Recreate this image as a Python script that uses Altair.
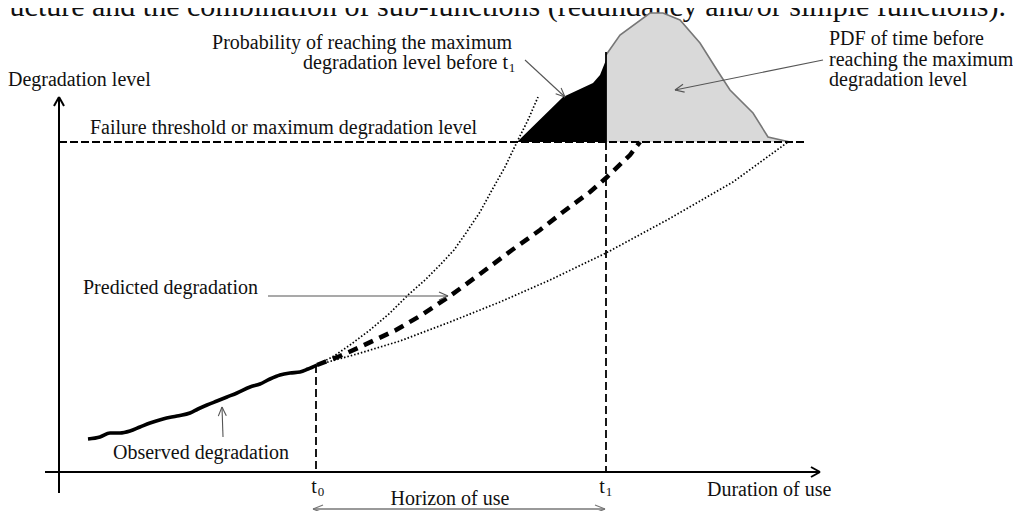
import altair as alt
import pandas as pd
import numpy as np

# Coordinate frame of the diagram (reference page pixels, y downward)
X_DOMAIN = [8, 1013]
Y_DOMAIN = [8, 511]

THRESHOLD = 142
T0 = 316
T1 = 606

# Observed degradation (solid, wavy)
obs_x = [88, 100, 110, 120, 130, 140, 150, 163, 177, 190, 198, 207, 217, 227, 237, 250, 260, 270, 280, 290, 300, 308, 317]
obs_y = [439, 437, 433, 433, 431, 427, 423, 419, 416, 413, 409, 405, 401, 397, 393, 387, 384, 379, 375, 373, 372, 369, 365]

# Predicted degradation (thick dashed, mean)
mid_x = [317, 340, 360, 396, 420, 450, 480, 512, 540, 563, 590, 606, 630, 640]
mid_y = [365, 356, 347, 330, 316, 296, 274, 250, 230, 212, 192, 178, 155, 142]

# Upper bound (dotted)
up_x = [317, 334, 350, 370, 390, 408, 425, 440, 454, 466, 480, 492, 505, 517, 528, 538]
up_y = [365, 356, 345, 330, 313, 295, 280, 265, 250, 233, 212, 190, 167, 142, 120, 97]

# Lower bound (dotted)
low_x = [317, 357, 400, 450, 500, 550, 606, 667, 733, 788]
low_y = [365, 354, 341, 322, 302, 280, 253, 220, 182, 142]

# Probability of failure before t1 (black area)
blk_x = [517, 563, 593, 600, 606]
blk_y = [142, 97, 83, 75, 60]

# PDF of time to failure (grey area)
pdf_x = [606, 620, 650, 663, 680, 700, 717, 730, 753, 768, 790]
pdf_y = [55, 35, 13, 13, 20, 43, 70, 90, 113, 137, 142]

# Texts
top_text = "ructure and the combination of sub-functions (redundancy and/or simple functions)."
left_labels = ["Degradation level", "Failure threshold or maximum degradation level",
               "PDF of time before", "reaching the maximum", "degradation level",
               "Predicted degradation", "Observed degradation", "Duration of use"]
left_lx = [8, 90, 829, 829, 829, 83, 113, 707]
left_ly = [80, 128, 39, 60, 80, 288, 453, 490]

right_labels = ["Probability of reaching the maximum", "degradation level before t"]
right_lx = [512, 508]
right_ly = [43, 63]

center_labels = ["Horizon of use", "t", "t"]
center_lx = [450, 314, 602]
center_ly = [499, 487, 487]

sub_labels = ["1", "0", "1"]
sub_lx = [512, 321, 609]
sub_ly = [68, 492, 492]

# Annotation arrows: start -> tip
ann_start_x = [525, 823, 268, 223]
ann_start_y = [60, 60, 296, 437]
ann_tip_x = [565, 675, 448, 222]
ann_tip_y = [97, 90, 296, 407]

xs = alt.Scale(domain=X_DOMAIN, nice=False, zero=False)
ys = alt.Scale(domain=Y_DOMAIN, nice=False, zero=False, reverse=True)


def X(f):
    return alt.X(f, type="quantitative", scale=xs, axis=None)


def Y(f):
    return alt.Y(f, type="quantitative", scale=ys, axis=None)


def line_layer(xv, yv, **kw):
    df = pd.DataFrame({"x": xv, "y": yv, "i": range(len(xv))})
    return alt.Chart(df).mark_line(**kw).encode(x=X("x"), y=Y("y"), order="i:Q")


def rules(segs, **kw):
    df = pd.DataFrame(segs, columns=["x", "y", "x2", "y2"])
    return alt.Chart(df).mark_rule(**kw).encode(x=X("x"), y=Y("y"), x2="x2", y2="y2")


def head(x0, y0, x1, y1, L, W):
    d = np.array([x1 - x0, y1 - y0], dtype=float)
    d /= np.linalg.norm(d)
    n = np.array([-d[1], d[0]])
    tip = np.array([x1, y1], dtype=float)
    base = tip - L * d
    a = base + W * n
    b = base - W * n
    return [(a[0], a[1], x1, y1), (b[0], b[1], x1, y1)]


def texts(labels, lx, ly, align, size=20, baseline="middle"):
    df = pd.DataFrame({"t": labels, "x": lx, "y": ly})
    return alt.Chart(df).mark_text(font="Liberation Serif", fontSize=size, align=align,
                                   baseline=baseline, color="#111").encode(
        x=X("x"), y=Y("y"), text="t:N")


layers = []

# top cut-off sentence
layers.append(texts([top_text], [1006], [16], "right", size=30, baseline="alphabetic"))

# grey PDF area
pdf_df = pd.DataFrame({"x": pdf_x, "y": pdf_y, "y2": [THRESHOLD] * len(pdf_x)})
layers.append(alt.Chart(pdf_df).mark_area(color="#d9d9d9", opacity=1).encode(
    x=X("x"), y=Y("y"), y2="y2"))
layers.append(line_layer(pdf_x, pdf_y, color="#777777", strokeWidth=1.6))

# black probability area
blk_df = pd.DataFrame({"x": blk_x, "y": blk_y, "y2": [THRESHOLD] * len(blk_x)})
layers.append(alt.Chart(blk_df).mark_area(color="#000000", opacity=1).encode(
    x=X("x"), y=Y("y"), y2="y2"))

# threshold
layers.append(rules([(59, THRESHOLD, 807, THRESHOLD)], color="#000", strokeWidth=1.8,
                    strokeDash=[8, 3]))

# t0 / t1 verticals
layers.append(rules([(T0, 365, T0, 472), (T1, THRESHOLD, T1, 472)], color="#000",
                    strokeWidth=1.8, strokeDash=[8, 4]))
layers.append(rules([(T1, 52, T1, THRESHOLD)], color="#000", strokeWidth=1.8))

# axes
axes = [(59, 493, 59, 97), (45, 472, 820, 472)]
axes += head(59, 493, 59, 97, 9, 5)
axes += head(45, 472, 820, 472, 9, 5)
layers.append(rules(axes, color="#000", strokeWidth=2))

# curves
layers.append(line_layer(up_x, up_y, color="#000", strokeWidth=1.7, strokeDash=[1.5, 2]))
layers.append(line_layer(low_x, low_y, color="#000", strokeWidth=1.7, strokeDash=[1.5, 2]))
layers.append(line_layer(mid_x, mid_y, color="#000", strokeWidth=4.5, strokeDash=[10, 7]))
layers.append(line_layer(obs_x, obs_y, color="#000", strokeWidth=3.6, interpolate="monotone"))

# annotation arrows
ann = []
for sx, sy, tx, ty in zip(ann_start_x, ann_start_y, ann_tip_x, ann_tip_y):
    ann.append((sx, sy, tx, ty))
    ann += head(sx, sy, tx, ty, 9, 4)
layers.append(rules(ann, color="#555555", strokeWidth=1.1))

# horizon of use double arrow
hz = [(313, 509, 605, 509)]
hz += head(605, 509, 313, 509, 10, 4)
hz += head(313, 509, 605, 509, 10, 4)
layers.append(rules(hz, color="#777777", strokeWidth=1.3))

# labels
layers.append(texts(left_labels, left_lx, left_ly, "left"))
layers.append(texts(right_labels, right_lx, right_ly, "right"))
layers.append(texts(center_labels, center_lx, center_ly, "center"))
layers.append(texts(sub_labels, sub_lx, sub_ly, "center", size=13))

chart = alt.layer(*layers).properties(
    width=1005, height=503, padding=0, background="white",
    autosize=alt.AutoSizeParams(type="none"),
).configure_view(stroke=None)

chart.save("out.html", embed_options={"renderer": "svg", "actions": False})
